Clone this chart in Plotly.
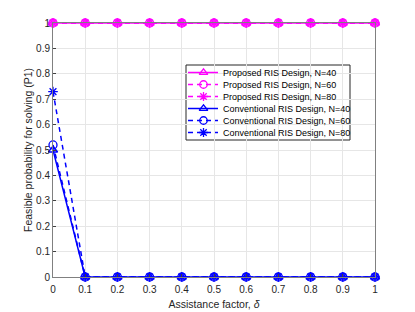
import plotly.graph_objects as go

delta = [0, 0.1, 0.2, 0.3, 0.4, 0.5, 0.6, 0.7, 0.8, 0.9, 1.0]
prop_40 = [1, 1, 1, 1, 1, 1, 1, 1, 1, 1, 1]
prop_60 = [1, 1, 1, 1, 1, 1, 1, 1, 1, 1, 1]
prop_80 = [1, 1, 1, 1, 1, 1, 1, 1, 1, 1, 1]
conv_40 = [0.50, 0, 0, 0, 0, 0, 0, 0, 0, 0, 0]
conv_60 = [0.52, 0, 0, 0, 0, 0, 0, 0, 0, 0, 0]
conv_80 = [0.73, 0, 0, 0, 0, 0, 0, 0, 0, 0, 0]
ticks = [0, 0.1, 0.2, 0.3, 0.4, 0.5, 0.6, 0.7, 0.8, 0.9, 1]

MAG = "#ff00ff"
BLU = "#0000ff"
DASH = "5px,4px"

series = [
    ("Proposed RIS Design, N=40", prop_40, MAG, "solid", "triangle-up-open"),
    ("Proposed RIS Design, N=60", prop_60, MAG, DASH, "circle-open"),
    ("Proposed RIS Design, N=80", prop_80, MAG, DASH, "asterisk-open"),
    ("Conventional RIS Design, N=40", conv_40, BLU, "solid", "triangle-up-open"),
    ("Conventional RIS Design, N=60", conv_60, BLU, DASH, "circle-open"),
    ("Conventional RIS Design, N=80", conv_80, BLU, DASH, "asterisk-open"),
]

# plot area in screen pixels (page has an 8px body margin)
PL, PR, PT, PB = 53, 375, 23, 277
W, H = 415, 312
OFF = 8


def px(X):
    return (X - PL) / (PR - PL)


def py(Y):
    return (PB - Y) / (PB - PT)


fig = go.Figure()
for name, ys, col, dash, sym in series:
    fig.add_trace(go.Scatter(
        x=delta, y=ys, name=name, mode="lines+markers", showlegend=False,
        line=dict(color=col, width=1.5, dash=dash),
        marker=dict(symbol=sym, size=8, color=col, line=dict(width=1.3, color=col)),
        cliponaxis=False,
    ))

# Custom compact legend (MATLAB-style), drawn on a pixel-coordinate overlay axis
LX0, LX1, LY0, LY1 = 186, 350, 65, 140
row_y = [72.5, 84.5, 96.5, 108.5, 120.5, 132.5]
for (name, ys, col, dash, sym), ry in zip(series, row_y):
    fig.add_trace(go.Scatter(
        x=[188, 203, 218], y=[ry, ry, ry], mode="lines", showlegend=False,
        xaxis="x2", yaxis="y2", hoverinfo="skip",
        line=dict(color=col, width=1.5, dash=dash),
    ))
    fig.add_trace(go.Scatter(
        x=[203.5], y=[ry], mode="markers", showlegend=False,
        xaxis="x2", yaxis="y2", hoverinfo="skip",
        marker=dict(symbol=sym, size=7.5, color=col, line=dict(width=1.3, color=col)),
    ))
    fig.add_annotation(
        x=221, y=ry, xref="x2", yref="y2", text=name, showarrow=False,
        xanchor="left", yanchor="middle",
        font=dict(size=9, color="#000000", family="Liberation Sans, Arial, sans-serif"),
    )

fig.add_shape(
    type="rect", xref="paper", yref="paper",
    x0=px(LX0), x1=px(LX1), y0=py(LY1), y1=py(LY0),
    line=dict(color="#262626", width=1), fillcolor="white", layer="between",
)

axis_common = dict(
    range=[0, 1], tickvals=ticks, ticktext=[f"{t:g}" for t in ticks],
    showgrid=True, gridcolor="#e6e6e6", gridwidth=1,
    showline=True, linecolor="#808080", linewidth=1, mirror=True,
    ticks="inside", ticklen=3, tickcolor="#404040",
    zeroline=False, tickfont=dict(size=10, color="#262626"),
    automargin=False,
)

fig.update_layout(
    width=W, height=H,
    margin=dict(l=PL - OFF, r=W - (PR - OFF), t=PT - OFF, b=H - (PB - OFF)),
    paper_bgcolor="white", plot_bgcolor="white",
    font=dict(family="Liberation Sans, Arial, sans-serif", size=10, color="#262626"),
    xaxis=dict(**axis_common, ticklabelstandoff=3,
               title=dict(text="Assistance factor, <i>δ</i>", standoff=6, font=dict(size=10.5))),
    yaxis=dict(**axis_common,
               title=dict(text="Feasible probability for solving (P1)", standoff=1, font=dict(size=10.5))),
    xaxis2=dict(overlaying="x", range=[PL, PR], visible=False, fixedrange=True),
    yaxis2=dict(overlaying="y", range=[PB, PT], visible=False, fixedrange=True),
    showlegend=False,
)

fig.write_html("out.html")
